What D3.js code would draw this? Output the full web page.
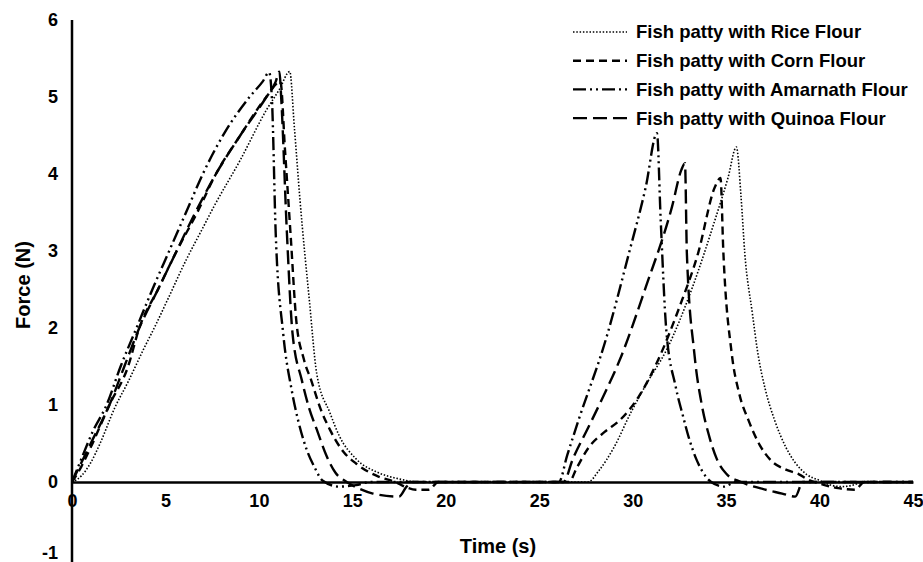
<!DOCTYPE html>
<html>
<head>
<meta charset="utf-8">
<script src="https://cdn.jsdelivr.net/npm/d3@7"></script>
<style>
  body { margin: 0; background: #fff; }
  text { font-family: "Liberation Sans", Arial, sans-serif; font-weight: bold; fill: #000; }
</style>
</head>
<body>
<div class="chart"></div>
<script>
var svgWidth = 923;
var svgHeight = 562;

// time (s), force (N)
var riceData = [[0,0],[0.5,0.08],[1,0.25],[1.5,0.5],[2.3,0.97],[3,1.3],[3.8,1.71],[4.5,2.05],[5.1,2.36],[6.1,2.88],[7,3.3],[7.6,3.58],[9,4.18],[10.4,4.83],[11.1,5.1],[11.65,5.33],[11.9,4.6],[12.2,3.66],[12.7,2.36],[13.1,1.4],[13.8,0.9],[14.3,0.6],[15.2,0.3],[16.4,0.12],[17.5,0.04],[18.5,0],[22,0],[27.6,0],[28.2,0.15],[29,0.45],[29.9,0.9],[30.8,1.3],[31.8,1.71],[33.2,2.53],[34.4,3.4],[35.1,3.95],[35.55,4.35],[35.8,3.7],[36.0,2.97],[36.4,2.2],[36.7,1.67],[37.1,1.2],[37.6,0.8],[38.2,0.45],[38.7,0.25],[39.3,0.1],[40,0.02],[40.6,-0.04],[41.2,-0.06],[41.8,-0.04],[42.3,0],[45,0]];
var cornData = [[0,0],[0.5,0.2],[1,0.45],[2,1.0],[3,1.5],[3.6,2.0],[4.6,2.5],[5.6,3.0],[6.7,3.5],[7.7,4.0],[9,4.5],[10.4,5.0],[11.15,5.2],[11.4,4.3],[11.7,3.2],[12.0,2.1],[12.4,1.6],[12.8,1.32],[13.3,0.95],[13.8,0.68],[14.5,0.4],[15.2,0.24],[16.4,0.07],[17.3,0],[17.9,-0.07],[18.4,-0.1],[19.1,-0.1],[19.6,0],[22,0],[26.6,0],[27.0,0.18],[27.65,0.45],[28.5,0.65],[29.3,0.8],[30.3,1.1],[31.2,1.5],[32.5,2.27],[33.5,2.97],[34.4,3.83],[34.7,3.95],[34.85,3.0],[35.3,1.67],[35.7,1.15],[36.2,0.8],[36.8,0.48],[37.4,0.28],[38.2,0.16],[38.9,0.1],[39.4,0.03],[40,-0.02],[41,-0.08],[41.9,-0.1],[42.4,0],[45,0]];
var amarnathData = [[0,0],[0.5,0.3],[1.1,0.65],[1.85,1.0],[2.6,1.5],[3.45,2.0],[4.3,2.5],[5.2,3.0],[6.1,3.5],[7.0,4.0],[8.2,4.55],[9.5,5.0],[10.2,5.2],[10.55,5.32],[10.7,4.96],[10.9,3.23],[11.3,1.93],[11.75,1.2],[12.1,0.8],[12.5,0.46],[13.0,0.18],[13.4,0.02],[14.3,-0.06],[15.2,-0.04],[16,0],[22,0],[26.05,0],[26.5,0.35],[27.1,0.8],[28.6,1.88],[29.8,2.97],[30.7,3.83],[31.3,4.53],[31.5,3.4],[31.8,1.97],[32.3,1.24],[32.7,0.85],[33,0.58],[33.4,0.3],[33.7,0.15],[34.2,0],[34.9,-0.06],[35.5,0],[45,0]];
var quinoaData = [[0,0],[0.5,0.25],[1,0.5],[2,1.0],[2.8,1.5],[3.6,2.0],[4.6,2.5],[5.6,3.0],[6.6,3.5],[7.7,4.0],[9,4.5],[10.4,5.0],[10.9,5.2],[11.1,5.33],[11.2,4.96],[11.5,3.23],[11.8,1.93],[12.3,1.32],[12.7,0.95],[13.1,0.68],[13.6,0.35],[14.1,0.12],[14.7,0],[15.4,-0.09],[16.1,-0.15],[17.5,-0.19],[17.9,-0.06],[18.2,0],[22,0],[26.3,0],[26.8,0.3],[27.65,0.72],[28.5,1.15],[29.3,1.58],[30.7,2.53],[32.1,3.57],[32.6,4.05],[32.8,4.14],[32.9,2.97],[33.3,1.67],[33.7,1.0],[34.1,0.59],[34.5,0.3],[35,0.11],[35.8,0],[36.8,-0.08],[38,-0.15],[38.7,-0.19],[39.1,0],[45,0]];

var seriesNames = ["Fish patty with Rice Flour", "Fish patty with Corn Flour", "Fish patty with Amarnath Flour", "Fish patty with Quinoa Flour"];
var xTicks = [0, 5, 10, 15, 20, 25, 30, 35, 40, 45];
var yTicks = [-1, 0, 1, 2, 3, 4, 5, 6];

var series = [
  { name: seriesNames[0], values: riceData, dash: "1.5,1.8", width: 1.6 },
  { name: seriesNames[1], values: cornData, dash: "8,5", width: 2.4 },
  { name: seriesNames[2], values: amarnathData, dash: "13,4,2,4,2,4", width: 2.4 },
  { name: seriesNames[3], values: quinoaData, dash: "14,6", width: 2.4 }
];

var svg = d3.select(".chart")
  .append("svg")
  .attr("width", svgWidth)
  .attr("height", svgHeight);

var xScale = d3.scaleLinear().domain([0, 45]).range([72, 913]);
var yScale = d3.scaleLinear().domain([-1, 6]).range([559, 20]);

// lines first, axes drawn over them
var line = d3.line()
  .x(d => xScale(d[0]))
  .y(d => yScale(d[1]))
  .curve(d3.curveMonotoneX);

svg.selectAll(".series")
  .data(series)
  .enter()
  .append("path")
  .attr("class", "series")
  .attr("d", d => line(d.values))
  .attr("fill", "none")
  .attr("stroke", "#000")
  .attr("stroke-width", d => d.width)
  .attr("stroke-dasharray", d => d.dash);

// y axis
var leftAxis = d3.axisLeft(yScale).tickValues(yTicks).tickSize(0).tickPadding(14).tickFormat(d => String(d));
var yAxis = svg.append("g")
  .attr("transform", `translate(${xScale(0)}, 0)`)
  .call(leftAxis);
yAxis.select(".domain").attr("stroke", "#000").attr("stroke-width", 2.5).attr("d", `M0,${yScale(6)}V${svgHeight}`);
yAxis.selectAll("text").style("font-size", "18px").style("font-family", "Liberation Sans, Arial, sans-serif").style("font-weight", "bold");
// bottom label sits on the edge in the original, lifted a little so it stays whole
yAxis.selectAll(".tick text").filter(d => d === -1).attr("dy", "-0.05em");

// x axis at force = 0
var bottomAxis = d3.axisBottom(xScale).tickValues(xTicks).tickSize(0).tickPadding(12);
var xAxis = svg.append("g")
  .attr("transform", `translate(0, ${yScale(0)})`)
  .call(bottomAxis);
xAxis.select(".domain").attr("stroke", "#000").attr("stroke-width", 2.5);
xAxis.selectAll("text").style("font-size", "18px").style("font-family", "Liberation Sans, Arial, sans-serif").style("font-weight", "bold");

svg.append("text")
  .attr("transform", `translate(30, 285) rotate(-90)`)
  .attr("text-anchor", "middle")
  .style("font-size", "20px")
  .text("Force (N)");

svg.append("text")
  .attr("x", 498)
  .attr("y", 553)
  .attr("text-anchor", "middle")
  .style("font-size", "20px")
  .text("Time (s)");

// legend
var legend = svg.selectAll(".legend")
  .data(series)
  .enter()
  .append("g")
  .attr("class", "legend")
  .attr("transform", (d, i) => `translate(573, ${32 + i * 28.7})`);

legend.append("line")
  .attr("x1", 0).attr("x2", 54)
  .attr("y1", 0).attr("y2", 0)
  .attr("stroke", "#000")
  .attr("stroke-width", d => d.width)
  .attr("stroke-dasharray", d => d.dash);

legend.append("text")
  .attr("x", 63)
  .attr("dy", "0.35em")
  .style("font-size", "18.5px")
  .text(d => d.name);
</script>
</body>
</html>
